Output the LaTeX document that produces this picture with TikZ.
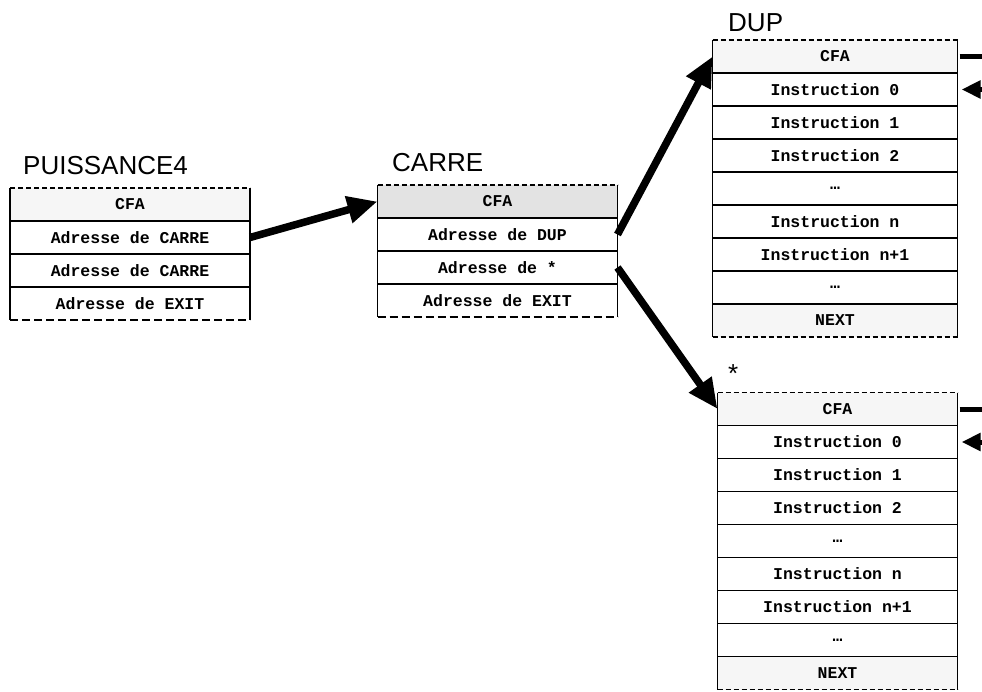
\documentclass[tikz,border=0pt]{standalone}
\usepackage{fontspec}
\setmainfont{Liberation Sans}
\newfontfamily\monofont{Liberation Mono}
\usepackage{xcolor}
\usetikzlibrary{arrows.meta}
\usetikzlibrary{positioning}
\tikzset{
  cell/.style={minimum width=240pt, minimum height=33pt, inner sep=0pt, outer sep=0pt,
    font={\monofont\bfseries\fontsize{16.5}{18}\selectfont}},
  wide/.style={minimum width=245pt},
  cfa/.style={fill=gray!7},
  titre/.style={anchor=base west, inner sep=0pt, font={\fontsize{26}{30}\selectfont}},
  bord/.style={line width=1.3pt},
  haut/.style={line width=1.3pt, dash pattern=on 5pt off 3pt},
  bas/.style={line width=1.3pt, dash pattern=on 8pt off 4pt},
  fleche/.style={line width=7.5pt, -{Triangle[length=30pt,width=26pt]}},
  boucle/.style={line width=5pt},
}
\begin{document}
\begin{tikzpicture}[x=1pt,y=-1pt]
    \useasboundingbox (0,0) rectangle (982,692);
    % PUISSANCE4
    \node[titre] (pT) at (23,175) {PUISSANCE4};
    \node[cell, cfa] (p0) at (130,204.5) {CFA};
    \node[cell, below=0pt of p0] (p1) {Adresse de CARRE};
    \node[cell, below=0pt of p1] (p2) {Adresse de CARRE};
    \node[cell, below=0pt of p2] (p3) {Adresse de EXIT};
    \draw[haut] (p0.north west) -- (p0.north east);
    \draw[bas] (p3.south west) -- (p3.south east);
    \draw[bord] (p0.north west) -- (p3.south west) (p0.north east) -- (p3.south east);
    \foreach \i in {0,1,2} \draw[bord] (p\i.south west) -- (p\i.south east);
    % CARRE
    \node[titre] (cT) at (392,172) {CARRE};
    \node[cell, fill=gray!22] (c0) at (497.5,201.5) {CFA};
    \node[cell, below=0pt of c0] (c1) {Adresse de DUP};
    \node[cell, below=0pt of c1] (c2) {Adresse de *};
    \node[cell, below=0pt of c2] (c3) {Adresse de EXIT};
    \draw[haut] (c0.north west) -- (c0.north east);
    \draw[bas] (c3.south west) -- (c3.south east);
    \draw[bord] (c0.north west) -- (c3.south west) (c0.north east) -- (c3.south east);
    \foreach \i in {0,1,2} \draw[bord] (c\i.south west) -- (c\i.south east);
    % DUP
    \node[titre] (dT) at (728,32) {DUP};
    \node[cell, wide, cfa] (d0) at (835,56.5) {CFA};
    \node[cell, wide, below=0pt of d0] (d1) {Instruction 0};
    \node[cell, wide, below=0pt of d1] (d2) {Instruction 1};
    \node[cell, wide, below=0pt of d2] (d3) {Instruction 2};
    \node[cell, wide, below=0pt of d3] (d4) {…};
    \node[cell, wide, below=0pt of d4] (d5) {Instruction n};
    \node[cell, wide, below=0pt of d5] (d6) {Instruction n+1};
    \node[cell, wide, below=0pt of d6] (d7) {…};
    \node[cell, wide, cfa, below=0pt of d7] (d8) {NEXT};
    \draw[haut] (d0.north west) -- (d0.north east);
    \draw[haut] (d8.south west) -- (d8.south east);
    \draw[bord] (d0.north west) -- (d8.south west) (d0.north east) -- (d8.south east);
    \foreach \i in {0,...,7} \draw[bord] (d\i.south west) -- (d\i.south east);
    % *
    \node[titre] (sT) at (728,382) {*};
    \node[cell, cfa] (s0) at (837.5,409) {CFA};
    \node[cell, below=0pt of s0] (s1) {Instruction 0};
    \node[cell, below=0pt of s1] (s2) {Instruction 1};
    \node[cell, below=0pt of s2] (s3) {Instruction 2};
    \node[cell, below=0pt of s3] (s4) {…};
    \node[cell, below=0pt of s4] (s5) {Instruction n};
    \node[cell, below=0pt of s5] (s6) {Instruction n+1};
    \node[cell, below=0pt of s6] (s7) {…};
    \node[cell, cfa, below=0pt of s7] (s8) {NEXT};
    \draw[haut] (s0.north west) -- (s0.north east);
    \draw[haut] (s8.south west) -- (s8.south east);
    \draw[bord] (s0.north west) -- (s8.south west) (s0.north east) -- (s8.south east);
    \foreach \i in {0,...,7} \draw[bord] (s\i.south west) -- (s\i.south east);
    % Fleches
    \draw[fleche] (p1.east) -- (c0.west);
    \draw[fleche] (c1.east) -- (d0.west);
    \draw[fleche] (c2.east) -- (s0.west);
    % Boucles vers la droite
    \coordinate (dA) at (990,56.5);
    \coordinate (dB) at (995,89.5);
    \coordinate (sA) at (990,409);
    \coordinate (sB) at (995,442);
    \draw[boucle, shorten <=2pt] (d0.east) -- (dA);
    \draw[boucle, -{Triangle[length=19pt,width=17pt]}, shorten >=4pt] (dB) -- (d1.east);
    \draw[boucle, shorten <=2pt] (s0.east) -- (sA);
    \draw[boucle, -{Triangle[length=19pt,width=17pt]}, shorten >=4pt] (sB) -- (s1.east);
\end{tikzpicture}
\end{document}
